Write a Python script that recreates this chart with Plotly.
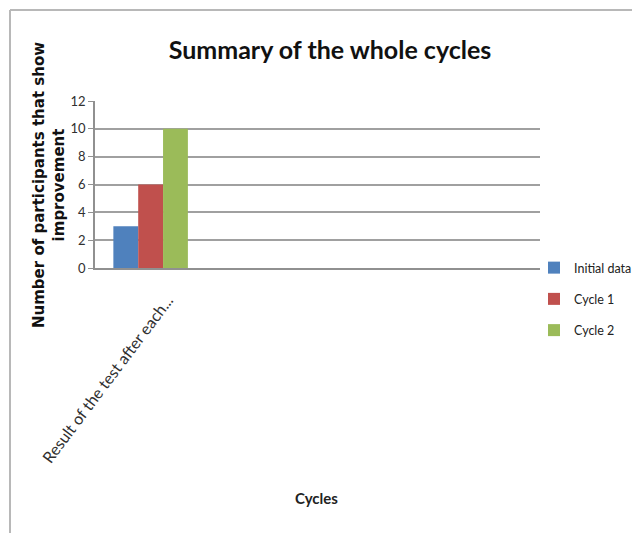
import plotly.graph_objects as go

categories = ["Result of the test after each...", " ", "  ", "   "]
initial_data = [3, None, None, None]
cycle1 = [6, None, None, None]
cycle2 = [10, None, None, None]
series_names = ["Initial data", "Cycle 1", "Cycle 2"]
colors = ["#4F81BD", "#C0504D", "#9BBB59"]

fig = go.Figure()
for name, vals, col in zip(series_names, [initial_data, cycle1, cycle2], colors):
    fig.add_trace(go.Bar(name=name, x=categories, y=vals, marker_color=col,
                         marker_line_width=0, legendgroup=name))

# page body has an 8px margin; work in screen pixels and convert
OFF = 8
W, H = 640 - OFF, 533 - OFF
PX0, PX1, PY0, PY1 = 95, 540, 101, 268  # plot area on screen
L, R, T, B = PX0 - OFF, W - (PX1 - OFF), PY0 - OFF, H - (PY1 - OFF)
pw = PX1 - PX0
ph = PY1 - PY0

def px_x(x):
    return (x - PX0) / pw

def px_y(y):
    return (PY1 - y) / ph

fig.update_layout(
    width=W, height=H,
    margin=dict(l=L, r=R, t=T, b=B, autoexpand=False),
    paper_bgcolor="white", plot_bgcolor="white",
    font=dict(family="Lato", color="#404040"),
    title=dict(text="<b>Summary of the whole cycles</b>", x=(330 - OFF) / W, xref="container",
               xanchor="center", y=1 - (50 - OFF) / H, yanchor="middle",
               font=dict(size=25, color="#111111", family="Lato")),
    bargap=0.33, bargroupgap=0,
    showlegend=True,
    legend=dict(x=px_x(534), xanchor="left", y=px_y(253), yanchor="top",
                font=dict(size=12.5, color="#222222"), tracegroupgap=12,
                itemwidth=30, traceorder="grouped", bgcolor="rgba(0,0,0,0)"),
    xaxis=dict(type="category", tickangle=-53, showline=True, linecolor="#909090",
               linewidth=1.5, tickfont=dict(size=16, color="#303030"),
               showgrid=False, ticks="", automargin=False,
               ticklabelstandoff=15, ticklabelshift=17),
    yaxis=dict(range=[0, 12], dtick=2, showgrid=True, gridcolor="#a0a0a0", gridwidth=1.5,
               showline=True, linecolor="#909090", linewidth=1.5, ticks="outside",
               ticklen=5, tickcolor="#909090", tickfont=dict(size=13, color="#303030"),
               zeroline=False, automargin=False),
    shapes=[
        dict(type="line", xref="paper", yref="paper", x0=px_x(10), x1=px_x(650),
             y0=px_y(10), y1=px_y(10), line=dict(color="#b8b8b8", width=2)),
        dict(type="line", xref="paper", yref="paper", x0=px_x(10), x1=px_x(10),
             y0=px_y(10), y1=px_y(540), line=dict(color="#b8b8b8", width=2)),
    ],
    annotations=[
        dict(text="<b>Number of participants that show<br>improvement</b>",
             xref="paper", yref="paper", x=px_x(49), y=px_y(185), xanchor="center",
             yanchor="middle", textangle=-90, showarrow=False,
             font=dict(size=15, color="#111111", family="DejaVu Sans")),
        dict(text="<b>Cycles</b>", xref="paper", yref="paper", x=px_x(316), y=px_y(498),
             xanchor="center", yanchor="middle", showarrow=False,
             font=dict(size=15, color="#222222", family="Lato")),
    ],
)

fig.write_html("out.html")
